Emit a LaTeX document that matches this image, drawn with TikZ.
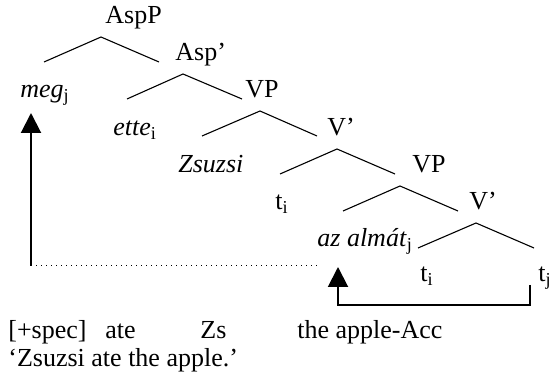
\documentclass[tikz,border=0pt]{standalone}
\usepackage{fontspec}
\setmainfont{Liberation Serif}
\usetikzlibrary{arrows.meta}
\begin{document}
\begin{tikzpicture}[x=0.5pt,y=-0.5pt,
  lbl/.style={anchor=base west,inner sep=0pt,font=\fontsize{13}{15}\selectfont},
  branch/.style={line width=0.55pt},
  mv/.style={line width=1pt},
  mvtip/.style={-{Triangle[width=10pt,length=10pt]}}]
\useasboundingbox (0,0) rectangle (550,378);
% labels
\node[lbl] (aspp) at (105,24) {AspP};
\node[lbl] (aspbar) at (175,61) {Asp’};
\node[lbl] (meg) at (20,98) {\textit{meg}\textsubscript{j}};
\node[lbl] (vp1) at (245,98) {VP};
\node[lbl] (ette) at (113,136) {\textit{ette}\textsubscript{i}};
\node[lbl] (vbar1) at (327,136) {V’};
\node[lbl] (zsuzsi) at (178,173) {\textit{Zsuzsi}};
\node[lbl] (vp2) at (412,173) {VP};
\node[lbl] (ti1) at (275,210) {t\textsubscript{i}};
\node[lbl] (vbar2) at (469,210) {V’};
\node[lbl] (almat) at (317,247) {\textit{az almát}\textsubscript{j}};
\node[lbl] (ti2) at (420,282) {t\textsubscript{i}};
\node[lbl] (tj) at (538,282) {t\textsubscript{j}};
% branches
\coordinate (a1) at (101,37); \coordinate (l1) at (44,62);  \coordinate (r1) at (159,62);
\coordinate (a2) at (183,74); \coordinate (l2) at (127,99); \coordinate (r2) at (242,99);
\coordinate (a3) at (260,111);\coordinate (l3) at (202,136);\coordinate (r3) at (317,136);
\coordinate (a4) at (337,149);\coordinate (l4) at (280,174);\coordinate (r4) at (395,174);
\coordinate (a5) at (400,186);\coordinate (l5) at (343,211);\coordinate (r5) at (458,211);
\coordinate (a6) at (476,223);\coordinate (l6) at (418,248);\coordinate (r6) at (534,248);
\foreach \i in {1,...,6}{\draw[branch] (l\i) -- (a\i) -- (r\i);}
% movement arrows
\coordinate (megtip) at (31,113);
\coordinate (megfoot) at (31,266);
\coordinate (dotend) at (318,266);
\draw[mv,mvtip] (megfoot) -- (megtip);
\draw[dotted,line width=0.5pt] (megfoot) -- (dotend);
\coordinate (almtip) at (338,267);
\coordinate (tjfoot) at (530,285);
\draw[mv,mvtip] (tjfoot) -- (530,305) -- (338,305) -- (almtip);
% gloss
\node[lbl] (g1) at (8,339) {[+spec]};
\node[lbl] (g2) at (105,339) {ate};
\node[lbl] (g3) at (200,339) {Zs};
\node[lbl] (g4) at (297,339) {the apple-Acc};
\node[lbl] (tr) at (8,366) {‘Zsuzsi ate the apple.’};
\end{tikzpicture}
\end{document}
